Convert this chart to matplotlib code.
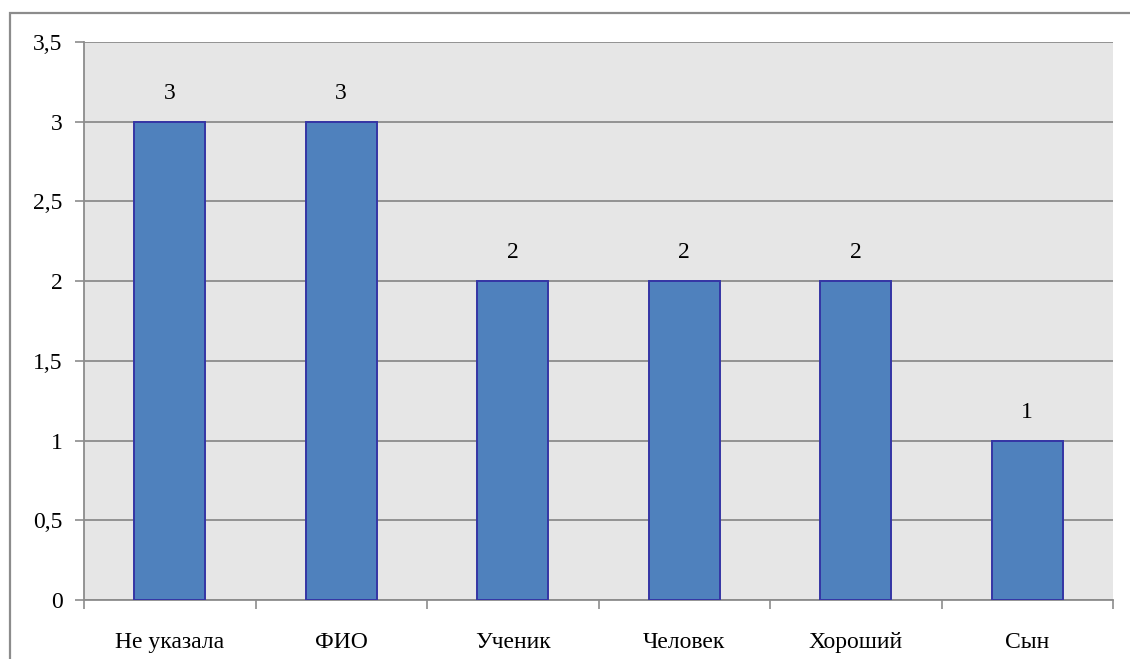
import matplotlib.pyplot as plt
import numpy as np
from matplotlib.patches import Rectangle

categories = ["Не указала", "ФИО", "Ученик", "Человек", "Хороший", "Сын"]
values = [3, 3, 2, 2, 2, 1]
y_ticks = [0, 0.5, 1, 1.5, 2, 2.5, 3, 3.5]
y_tick_labels = ["0", "0,5", "1", "1,5", "2", "2,5", "3", "3,5"]

plt.rcParams["font.family"] = "serif"
plt.rcParams["font.serif"] = ["Liberation Serif", "Times New Roman", "DejaVu Serif"]

W, H = 1130, 659
fig = plt.figure(figsize=(W / 100, H / 100), dpi=100)

# outer chart border (only top/left visible in the reference)
fig.patches.append(Rectangle((10 / W, -0.1), 1.2, (H - 13) / H + 0.1,
                             transform=fig.transFigure, fill=False,
                             edgecolor="#8c8c8c", linewidth=1.6))

left, right, top, bottom = 84, 1113, 42, 600
ax = fig.add_axes([left / W, (H - bottom) / H, (right - left) / W, (bottom - top) / H])
ax.set_facecolor("#e6e6e6")

x = np.arange(len(categories))
bars = ax.bar(x, values, width=0.415, color="#4f81bd", edgecolor="#3535a5",
              linewidth=1.4, zorder=3)

for b, v in zip(bars, values):
    ax.annotate(f"{v}", (b.get_x() + b.get_width() / 2, v), xytext=(0, 13),
                textcoords="offset points", ha="center", va="bottom", fontsize=17)

ax.set_xlim(-0.5, len(categories) - 0.5)
ax.set_ylim(0, 3.5)
ax.set_yticks(y_ticks)
ax.set_yticklabels(y_tick_labels, fontsize=17)
ax.yaxis.grid(True, color="#8c8c8c", linewidth=1.3, zorder=1)
ax.set_axisbelow(True)

ax.set_xticks(x)
ax.set_xticklabels(categories, fontsize=17)
ax.set_xticks(np.arange(len(categories) + 1) - 0.5, minor=True)
ax.tick_params(axis="x", which="major", length=0, pad=23)
ax.tick_params(axis="x", which="minor", length=6.5, width=1.2, color="#8c8c8c")
ax.tick_params(axis="y", length=6.5, width=1.2, color="#8c8c8c", pad=9)

for s in ["top", "right"]:
    ax.spines[s].set_visible(False)
for s in ["left", "bottom"]:
    ax.spines[s].set_color("#8c8c8c")
    ax.spines[s].set_linewidth(1.3)

fig.savefig("out.png", dpi=100)
